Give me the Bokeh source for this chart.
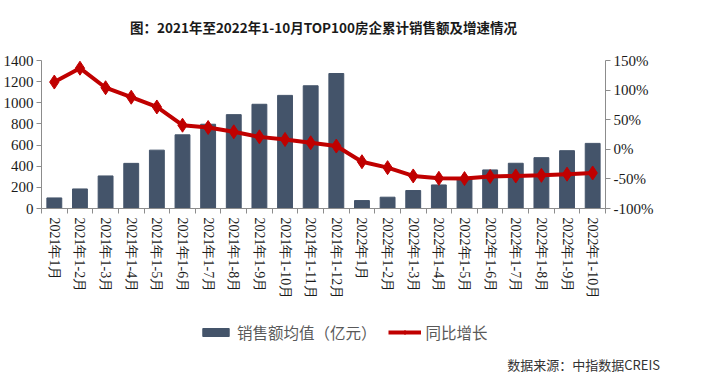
import math
from bokeh.plotting import figure
from bokeh.layouts import column
from bokeh.models import (Range1d, LinearAxis, FixedTicker, PrintfTickFormatter,
                          Legend, LegendItem, Title, Div)
from bokeh.embed import file_html
from bokeh.resources import INLINE

months = ["2021年1月", "2021年1-2月", "2021年1-3月", "2021年1-4月", "2021年1-5月",
          "2021年1-6月", "2021年1-7月", "2021年1-8月", "2021年1-9月", "2021年1-10月",
          "2021年1-11月", "2021年1-12月", "2022年1月", "2022年1-2月", "2022年1-3月",
          "2022年1-4月", "2022年1-5月", "2022年1-6月", "2022年1-7月", "2022年1-8月",
          "2022年1-9月", "2022年1-10月"]
sales = [100, 185, 308, 427, 552, 697, 797, 888, 986, 1070, 1161, 1277,
         75, 107, 170, 223, 280, 365, 428, 481, 547, 616]
growth = [113.6, 137, 104, 88, 71.5, 40.7, 36.8, 29.5, 21, 16.6, 11, 5.5,
          -21, -31, -45, -49, -49.5, -46, -45, -44, -42, -40]
left_ticks = [0, 200, 400, 600, 800, 1000, 1200, 1400]
right_ticks = [-100, -50, 0, 50, 100, 150]
series_names = ["销售额均值（亿元）", "同比增长"]
title_text = "图：2021年至2022年1-10月TOP100房企累计销售额及增速情况"
source_text = "数据来源：中指数据CREIS"

xs = list(range(len(months)))

CJK = "Noto Sans CJK SC"
SERIF = "Liberation Serif"
BAR_COL = "#44546A"
LINE_COL = "#C00000"

p = figure(width=701, height=308, x_range=Range1d(-0.5, len(months) - 0.5),
           y_range=Range1d(0, 1400), output_backend="svg", toolbar_location=None,
           min_border_left=39, min_border_right=96, min_border_top=52, min_border_bottom=100)
p.extra_y_ranges = {"pct": Range1d(-100, 150)}
p.grid.visible = False
p.outline_line_color = None

# real title outermost, small spacer between it and the frame
p.title = Title(text=title_text, align="center", text_font=CJK, text_font_size="13.5px",
                text_font_style="bold", text_color="#1a1a1a", standoff=32,
                vertical_align="top")
p.add_layout(Title(text=" ", text_font_size="1px", standoff=3), "above")

axis_col = "#8c8c8c"
lab_col = "#1a1a1a"

xa = p.xaxis[0]
xa.ticker = FixedTicker(ticks=xs, minor_ticks=[i - 0.5 for i in range(len(months) + 1)])
xa.major_label_overrides = {i: m for i, m in zip(xs, months)}
xa.major_tick_out = 0
xa.major_tick_in = 0
xa.minor_tick_out = 5
xa.minor_tick_in = 0
xa.major_label_orientation = -math.pi / 2
xa.major_label_text_font = SERIF
xa.major_label_text_font_size = "14px"
xa.major_label_text_color = lab_col
xa.major_label_standoff = 4
xa.axis_line_color = axis_col
xa.minor_tick_line_color = axis_col

ya = p.yaxis[0]
ya.ticker = FixedTicker(ticks=left_ticks)
ya.major_tick_out = 5
ya.major_tick_in = 0
ya.minor_tick_line_color = None
ya.major_label_text_font = SERIF
ya.major_label_text_font_size = "15px"
ya.major_label_text_color = lab_col
ya.major_label_standoff = 3
ya.axis_line_color = axis_col
ya.major_tick_line_color = axis_col

ra = LinearAxis(y_range_name="pct", ticker=FixedTicker(ticks=right_ticks),
                formatter=PrintfTickFormatter(format="%d%%"))
ra.major_tick_out = 5
ra.major_tick_in = 0
ra.minor_tick_line_color = None
ra.major_label_text_font = SERIF
ra.major_label_text_font_size = "15px"
ra.major_label_text_color = lab_col
ra.major_label_standoff = 3
ra.axis_line_color = axis_col
ra.major_tick_line_color = axis_col
p.add_layout(ra, "right")

p.vbar(x=xs, top=sales, width=0.58, color=BAR_COL)
p.line(xs, growth, y_range_name="pct", line_width=4, color=LINE_COL)
p.scatter(xs, growth, y_range_name="pct", marker="diamond", size=14, color=LINE_COL)

# footer figure holding the legend (its copies of the series sit outside its view)
f = figure(width=701, height=43, x_range=Range1d(1000, 1566), y_range=Range1d(5000, 5043),
           x_axis_type=None, y_axis_type=None,
           output_backend="svg", toolbar_location=None, min_border=0)
f.grid.visible = False
f.outline_line_color = None
lb = f.vbar(x=xs, top=sales, width=0.58, color=BAR_COL)
ll = f.line(xs, growth, line_width=4, color=LINE_COL)
lp = f.scatter(xs, growth, marker="diamond", size=14, color=LINE_COL)

legend = Legend(items=[LegendItem(label=series_names[0], renderers=[lb]),
                       LegendItem(label=series_names[1], renderers=[ll, lp])],
                orientation="horizontal", location=(158, 8),
                border_line_color=None, background_fill_alpha=0,
                label_text_font=CJK, label_text_font_size="15.5px",
                label_text_color="#595959", glyph_width=33, glyph_height=10,
                label_standoff=5, spacing=11, padding=0, margin=0)
f.add_layout(legend, "center")

note = Div(text='<span style="position:relative;top:5px">' + source_text + '</span>',
           width=660, height=18,
           styles={"text-align": "right", "font-family": CJK, "font-size": "13px",
                   "color": "#333333", "line-height": "18px", "margin": "0"})

layout = column(p, f, note, spacing=0)
open("out.html", "w").write(file_html(layout, INLINE))
